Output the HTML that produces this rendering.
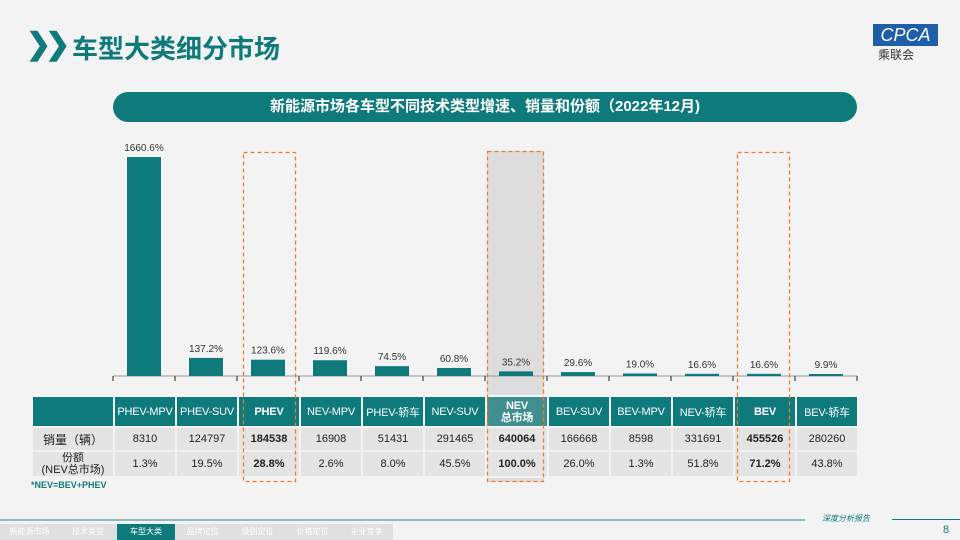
<!DOCTYPE html>
<html><head><meta charset="utf-8"><style>
*{margin:0;padding:0;box-sizing:border-box}
body{width:960px;height:540px;overflow:hidden;background:#f3f3f3;font-family:"Liberation Sans","Noto Sans CJK SC",sans-serif;position:relative}
.abs{position:absolute}
table{position:absolute;left:31px;top:395px;border-collapse:collapse;table-layout:fixed}
td{border:2px solid #f3f3f3;text-align:center;font-size:11px;color:#222;padding:0;white-space:nowrap;overflow:hidden}
tr.h td{background:#0f7a7c;color:#fff;font-size:11px;height:31px;letter-spacing:-0.2px}
tr.r td{background:#e4e4e4;height:24px}
.b{font-weight:bold}
</style></head><body>
<div class="abs" style="left:26px;top:28px;font-size:30px;line-height:34px;color:#0f7a7c;font-weight:bold;letter-spacing:-6px">❯❯</div>
<div class="abs" style="left:72px;top:29px;font-size:26px;font-weight:bold;color:#0f7a7c">车型大类细分市场</div>
<div class="abs" style="left:873px;top:24px;width:65px;height:22px;background:#1f5ea8;color:#fff;font-size:18px;font-style:italic;text-align:center;line-height:22px">CPCA</div>
<div class="abs" style="left:878px;top:46px;font-size:12px;color:#333">乘联会</div>
<div class="abs" style="left:113px;top:92px;width:744px;height:30px;border-radius:15px;background:#0f7a7c;color:#fff;font-size:15px;font-weight:bold;text-align:center;line-height:30px">新能源市场各车型不同技术类型增速、销量和份额（2022年12月)</div>
<div class="abs" style="left:487px;top:151px;width:57px;height:331px;background:rgba(180,180,180,0.35)"></div>
<svg class="abs" style="left:0;top:0;z-index:5;pointer-events:none" width="960" height="540">
<rect x="243.5" y="152.5" width="52" height="329" fill="none" stroke="#f07b2c" stroke-width="1.3" stroke-dasharray="4,3"/>
<rect x="487.5" y="151.5" width="56" height="330" fill="none" stroke="#f07b2c" stroke-width="1.3" stroke-dasharray="4,3"/>
<rect x="737.5" y="152.5" width="52" height="329" fill="none" stroke="#f07b2c" stroke-width="1.3" stroke-dasharray="4,3"/>
</svg>
<svg class="abs" style="left:0;top:0" width="960" height="400" id="chart"></svg>
<table>
<colgroup><col style="width:82px"><col span="12" style="width:62px"></colgroup>
<tr class="h"><td></td><td>PHEV-MPV</td><td>PHEV-SUV</td><td class="b">PHEV</td><td>NEV-MPV</td><td>PHEV-轿车</td><td>NEV-SUV</td><td class="b" style="line-height:12px;background:#3f8f90">NEV<br>总市场</td><td>BEV-SUV</td><td>BEV-MPV</td><td>NEV-轿车</td><td class="b">BEV</td><td>BEV-轿车</td></tr>
<tr class="r"><td style="font-size:12px">销量（辆）</td><td>8310</td><td>124797</td><td class="b">184538</td><td>16908</td><td>51431</td><td>291465</td><td class="b">640064</td><td>166668</td><td>8598</td><td>331691</td><td class="b">455526</td><td>280260</td></tr>
<tr class="r"><td style="font-size:11px;line-height:12px">份额<br>(NEV总市场)</td><td>1.3%</td><td>19.5%</td><td class="b">28.8%</td><td>2.6%</td><td>8.0%</td><td>45.5%</td><td class="b">100.0%</td><td>26.0%</td><td>1.3%</td><td>51.8%</td><td class="b">71.2%</td><td>43.8%</td></tr>
</table>
<div class="abs" style="left:31px;top:480px;font-size:9px;font-weight:bold;color:#0f7a7c">*NEV=BEV+PHEV</div>
<div class="abs" style="left:0;top:519px;width:805px;height:2px;background:#8cbcbc"></div>
<div class="abs" style="left:892px;top:519px;width:68px;height:1px;background:#0f7a7c"></div>
<div class="abs" style="left:822px;top:513px;font-size:8px;color:#0f7a7c;font-style:italic">深度分析报告</div>
<div class="abs" style="left:943px;top:524px;font-size:11px;color:#0f7a7c">8</div>
<div class="abs" style="left:0;top:524px;width:393px;height:16px;background:#e0e0e0;font-size:8px;color:#fff;display:flex">
<span style="width:59px;text-align:center;line-height:16px">新能源市场</span>
<span style="width:58px;text-align:center;line-height:16px">技术类型</span>
<span style="width:58px;text-align:center;line-height:16px;background:#0f7a7c">车型大类</span>
<span style="width:55px;text-align:center;line-height:16px">品牌定位</span>
<span style="width:55px;text-align:center;line-height:16px">级别定位</span>
<span style="width:55px;text-align:center;line-height:16px">价格定位</span>
<span style="width:53px;text-align:center;line-height:16px">企业竞争</span>
</div>
<script>
const categories=["PHEV-MPV","PHEV-SUV","PHEV","NEV-MPV","PHEV-轿车","NEV-SUV","NEV","BEV-SUV","BEV-MPV","NEV-轿车","BEV","BEV-轿车"];
const growth=[1660.6,137.2,123.6,119.6,74.5,60.8,35.2,29.6,19.0,16.6,16.6,9.9];
const labels=["1660.6%","137.2%","123.6%","119.6%","74.5%","60.8%","35.2%","29.6%","19.0%","16.6%","16.6%","9.9%"];
const svg=document.getElementById('chart');
const NS='http://www.w3.org/2000/svg';
const x0=113,bw=62,base=376,plotTop=157;
const maxV=Math.max(...growth);
function yScale(v){return base-(v/maxV)*(base-plotTop);}
function xc(i){return x0+bw*i+bw/2;}
let ax=document.createElementNS(NS,'line');
ax.setAttribute('x1',x0);ax.setAttribute('x2',x0+bw*12);ax.setAttribute('y1',base);ax.setAttribute('y2',base);ax.setAttribute('stroke','#999');


svg.appendChild(ax);
for(let i=0;i<=12;i++){
 let t=document.createElementNS(NS,'line');
 t.setAttribute('x1',x0+bw*i);t.setAttribute('x2',x0+bw*i);t.setAttribute('y1',base);t.setAttribute('y2',base+5);t.setAttribute('stroke','#222');
 
 
 svg.appendChild(t);
}
growth.forEach((v,i)=>{
 let r=document.createElementNS(NS,'rect');
 let yy=Math.min(yScale(v),base-2);
 r.setAttribute('x',xc(i)-17);r.setAttribute('width',34);r.setAttribute('y',yy);r.setAttribute('height',base-yy);r.setAttribute('fill','#0f7a7c');
 
 
 svg.appendChild(r);
 let t=document.createElementNS(NS,'text');
 t.setAttribute('x',xc(i));t.setAttribute('y',yy-6);t.setAttribute('text-anchor','middle');t.setAttribute('font-size','10');t.setAttribute('fill','#333');
 t.textContent=labels[i];
 
 
 svg.appendChild(t);
});
</script>
</body></html>
